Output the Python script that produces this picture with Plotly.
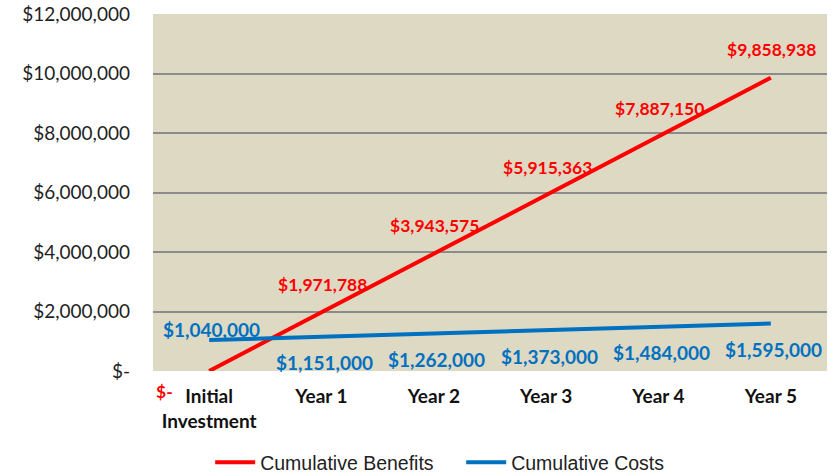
import plotly.graph_objects as go

categories = ["Initial<br>Investment", "Year 1", "Year 2", "Year 3", "Year 4", "Year 5"]
benefits = [0, 1971788, 3943575, 5915363, 7887150, 9858938]
costs = [1040000, 1151000, 1262000, 1373000, 1484000, 1595000]
benefit_labels = ["$-", "$1,971,788", "$3,943,575", "$5,915,363", "$7,887,150", "$9,858,938"]
cost_labels = ["$1,040,000", "$1,151,000", "$1,262,000", "$1,373,000", "$1,484,000", "$1,595,000"]
y_tickvals = [0, 2000000, 4000000, 6000000, 8000000, 10000000, 12000000]
y_ticktext = ["$-", "$2,000,000", "$4,000,000", "$6,000,000", "$8,000,000", "$10,000,000", "$12,000,000"]

RED = "#FF0000"
BLUE = "#0070C0"
xs = list(range(len(categories)))

fig = go.Figure()
fig.add_trace(go.Scatter(x=xs, y=benefits, mode="lines", name="Cumulative Benefits",
                         line=dict(color=RED, width=4)))
fig.add_trace(go.Scatter(x=xs, y=costs, mode="lines", name="Cumulative Costs",
                         line=dict(color=BLUE, width=4)))

# label offsets (style only)
ben_shift = [(-45, -20)] + [(1, 28)] * 5
cost_shift = [(2, 11)] + [(3, -26)] * 5

annotations = []
for x, v, t, (dx, dy) in zip(xs, benefits, benefit_labels, ben_shift):
    annotations.append(dict(x=x, y=v, text=t, showarrow=False, xshift=dx, yshift=dy,
                            font=dict(family="Lato", size=17.5, color=RED, weight="bold")))
for x, v, t, (dx, dy) in zip(xs, costs, cost_labels, cost_shift):
    annotations.append(dict(x=x, y=v, text=t, showarrow=False, xshift=dx, yshift=dy,
                            font=dict(family="Lato", size=19, color=BLUE, weight="bold")))

fig.update_layout(
    width=837, height=473,
    margin=dict(l=153, r=10, t=14, b=102, autoexpand=False),
    paper_bgcolor="white",
    plot_bgcolor="#DDD9C3",
    showlegend=True,
    legend=dict(orientation="h", x=0.551, xref="container", xanchor="center",
                y=0.022, yref="container", yanchor="middle",
                font=dict(family="Liberation Sans", size=19.5, color="#222222"),
                itemwidth=40, entrywidth=196, entrywidthmode="pixels", traceorder="normal"),
    annotations=annotations,
    xaxis=dict(range=[-0.5, 5.5], tickvals=xs, ticktext=categories, showgrid=False,
               zeroline=False, showline=False, ticklabelstandoff=12, automargin=False,
               tickfont=dict(family="Lato", size=19, color="#111111", weight="bold")),
    yaxis=dict(range=[0, 12000000], tickvals=y_tickvals, ticktext=y_ticktext,
               showgrid=True, gridcolor="#8C8C8C", gridwidth=1.5, zeroline=False,
               showline=False, ticklabelstandoff=22, automargin=False,
               tickfont=dict(family="Lato", size=19, color="#1F1F1F")),
)

fig.write_html("out.html")
